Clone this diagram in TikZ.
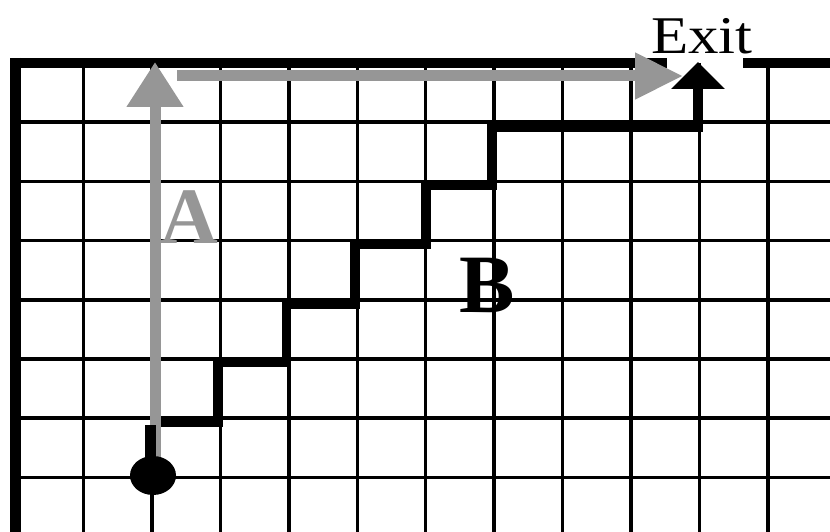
\documentclass[tikz,border=0pt]{standalone}
\usepackage{fontspec}
\setmainfont{Liberation Serif}
\usetikzlibrary{arrows.meta,shapes.geometric}
\definecolor{arrowgray}{RGB}{150,150,150}
\tikzset{
  gridline/.style={line width=3.5pt, black},
  borderline/.style={line width=10.5pt, black},
  stairline/.style={line width=9.5pt, black, line join=miter},
  grayarrow/.style={line width=11pt, arrowgray},
  biglabel/.style={font=\fontsize{80}{80}\selectfont\bfseries, inner sep=0pt, anchor=base},
}
\begin{document}
\begin{tikzpicture}[x=1pt,y=-1pt]
\useasboundingbox (0,0) rectangle (830,532);
\fill[white] (0,0) rectangle (830,532);
\begin{scope}
\clip (0,0) rectangle (830,532);
% grid
\foreach \k in {1,...,11} {
  \draw[gridline] ({15+68.45*\k},63) -- ({15+68.45*\k},540);
}
\foreach \j in {1,...,7} {
  \draw[gridline] (15,{63+59.2*\j}) -- (840,{63+59.2*\j});
}
% borders
\draw[borderline] (15.5,58) -- (15.5,540);
\draw[borderline] (10,63) -- (667,63);
\draw[borderline] (743,63) -- (840,63);
\end{scope}
% staircase path B
\coordinate (s0) at (150,422.5);
\coordinate (tipB) at (698,62);
\draw[stairline, -{Triangle[width=52pt,length=27pt]}]
  (s0) -- (218,422.5) -- (218,362) -- (286.5,362) -- (286.5,304)
  -- (355,304) -- (355,244) -- (426,244) -- (426,185) -- (492,185)
  -- (492,127) -- (698,127) -- (tipB);
% gray path A
\coordinate (startA) at (155,472);
\coordinate (tipA) at (155,62);
\coordinate (cornerA) at (177,76);
\coordinate (tipA2) at (683,76);
\draw[grayarrow, -{Triangle[width=54pt,length=45pt]}] (startA) -- (tipA);
\draw[grayarrow, -{Triangle[width=44pt,length=48pt]}] (cornerA) -- (tipA2);
% start stub and dot
\node[ellipse, fill=black, minimum width=46pt, minimum height=39pt, inner sep=0pt] (start) at (153,475.5) {};
\coordinate (stubbot) at (150,475);
\coordinate (stubtop) at (150,425);
\draw[line width=11pt, black] (stubbot) -- (stubtop);
% labels
\node[biglabel, text=arrowgray] (labA) at (189,243) {A};
\node[biglabel, font=\fontsize{83}{83}\selectfont\bfseries] (labB) at (487,312) {B};
\node[inner sep=0pt, anchor=base west, font=\fontsize{53}{53}\selectfont, xscale=1.15] (exit) at (651,53.3) {Exit};
\end{tikzpicture}
\end{document}
